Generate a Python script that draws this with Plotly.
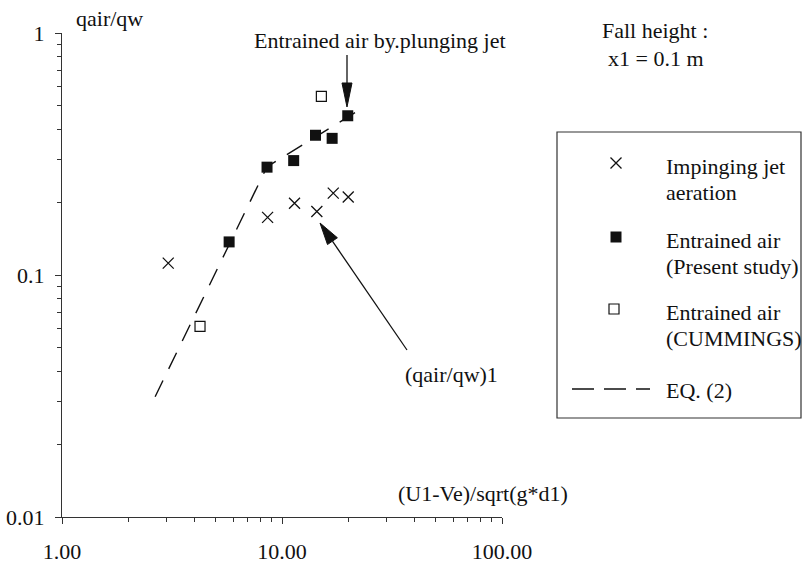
import plotly.graph_objects as go

# ---------------- data ----------------
cross_x = [3.04, 8.6, 11.4, 14.4, 17.1, 20.0]
cross_y = [0.112, 0.173, 0.198, 0.183, 0.218, 0.21]
present_x = [5.75, 8.55, 11.3, 14.2, 16.9, 19.9]
present_y = [0.137, 0.279, 0.297, 0.378, 0.367, 0.455]
cummings_x = [4.24, 15.1]
cummings_y = [0.0613, 0.547]
eq_x = [2.65, 8.55, 23.7]
eq_y = [0.0314, 0.28, 0.495]

x_tickvals = [1, 10, 100]
x_ticktext = ["1.00", "10.00", "100.00"]
y_tickvals = [0.01, 0.1, 1]
y_ticktext = ["0.01", "0.1", "1"]

legend_labels = [["Impinging jet", "aeration"],
                 ["Entrained air", "(Present study)"],
                 ["Entrained air", "(CUMMINGS)"],
                 ["EQ. (2)"]]

# ---------------- layout helpers ----------------
W, H = 804, 567
FONT = "Liberation Serif, Times New Roman, serif"
FS = 22.0
INK = "#111111"


def px(x):
    return x / W


def py(y):
    return 1 - y / H


fig = go.Figure()

fig.add_trace(go.Scatter(x=eq_x, y=eq_y, mode="lines",
                         line=dict(color=INK, width=1.4, dash="18px,13px"),
                         showlegend=False))
fig.add_trace(go.Scatter(x=cross_x, y=cross_y, mode="markers",
                         marker=dict(symbol="x-thin", size=11, color=INK,
                                     line=dict(color=INK, width=1.3)),
                         showlegend=False))
fig.add_trace(go.Scatter(x=present_x, y=present_y, mode="markers",
                         marker=dict(symbol="square", size=11, color=INK,
                                     line=dict(width=0)),
                         showlegend=False))
fig.add_trace(go.Scatter(x=cummings_x, y=cummings_y, mode="markers",
                         marker=dict(symbol="square-open", size=10, color=INK,
                                     line=dict(color=INK, width=1.2)),
                         showlegend=False))

# legend subplot (pixel coordinates)
LX0, LX1, LY0, LY1 = 557, 801, 132, 418
leg_marker_x = [616, 616, 614]
leg_marker_y = [163, 237, 309]
fig.add_trace(go.Scatter(x=[leg_marker_x[0]], y=[leg_marker_y[0]], mode="markers",
                         marker=dict(symbol="x-thin", size=11, color=INK,
                                     line=dict(color=INK, width=1.3)),
                         xaxis="x2", yaxis="y2", showlegend=False, cliponaxis=False))
fig.add_trace(go.Scatter(x=[leg_marker_x[1]], y=[leg_marker_y[1]], mode="markers",
                         marker=dict(symbol="square", size=11, color=INK, line=dict(width=0)),
                         xaxis="x2", yaxis="y2", showlegend=False, cliponaxis=False))
fig.add_trace(go.Scatter(x=[leg_marker_x[2]], y=[leg_marker_y[2]], mode="markers",
                         marker=dict(symbol="square-open", size=10, color=INK,
                                     line=dict(color=INK, width=1.2)),
                         xaxis="x2", yaxis="y2", showlegend=False, cliponaxis=False))
fig.add_trace(go.Scatter(x=[572, 650], y=[389, 389], mode="lines",
                         line=dict(color=INK, width=1.4, dash="22px,10px"),
                         xaxis="x2", yaxis="y2", showlegend=False))

annotations = []


def text(s, x, y, xanchor="center"):
    annotations.append(dict(text=s, x=px(x), y=py(y), xref="paper", yref="paper",
                            xanchor=xanchor, yanchor="middle", showarrow=False,
                            font=dict(family=FONT, size=FS, color=INK)))


text("qair/qw", 110, 18)
text("Entrained air by.plunging jet", 380, 40)
text("Fall height :", 655, 30)
text("x1 = 0.1 m", 656, 58)
text("(qair/qw)1", 451, 374)
text("(U1-Ve)/sqrt(g*d1)", 483, 493)

leg_text_y = [[166, 192], [240, 266], [312, 338], [390]]
for lines, ys in zip(legend_labels, leg_text_y):
    for s, yy in zip(lines, ys):
        text(s, 664, yy, xanchor="left")

shapes = []
# legend frame
shapes.append(dict(type="rect", xref="paper", yref="paper",
                   x0=px(LX0), x1=px(LX1), y0=py(LY1), y1=py(LY0),
                   line=dict(color="#333333", width=1.2)))


def arrow(x0, y0, x1, y1, hl=22, hw=5):
    import math
    dx, dy = x1 - x0, y1 - y0
    L = math.hypot(dx, dy)
    ux, uy = dx / L, dy / L
    bx, by = x1 - ux * hl, y1 - uy * hl
    nx, ny = -uy, ux
    shapes.append(dict(type="line", xref="paper", yref="paper",
                       x0=px(x0), y0=py(y0), x1=px(bx), y1=py(by),
                       line=dict(color=INK, width=1.3)))
    p1 = (bx + nx * hw, by + ny * hw)
    p2 = (bx - nx * hw, by - ny * hw)
    path = "M {:.5f},{:.5f} L {:.5f},{:.5f} L {:.5f},{:.5f} Z".format(
        px(x1), py(y1), px(p1[0]), py(p1[1]), px(p2[0]), py(p2[1]))
    shapes.append(dict(type="path", xref="paper", yref="paper", path=path,
                       fillcolor=INK, line=dict(color=INK, width=1)))


arrow(347, 55, 347, 107, hl=24, hw=5)
arrow(407, 350, 320, 223, hl=22, hw=6)

axis_common = dict(type="log", showgrid=False, zeroline=False, showline=True,
                   linecolor="#333333", linewidth=1.2, ticks="outside", ticklen=6,
                   tickcolor="#333333", tickwidth=1.1, automargin=False,
                   tickfont=dict(family=FONT, size=FS, color=INK))

fig.update_layout(
    width=W, height=H,
    margin=dict(l=0, r=0, t=0, b=0, autoexpand=False),
    paper_bgcolor="white", plot_bgcolor="white",
    showlegend=False,
    xaxis=dict(**axis_common, domain=[px(62), px(502)], range=[0, 2],
               tickvals=x_tickvals, ticktext=x_ticktext, ticklabelstandoff=8,
               anchor="y",
               minor=dict(tickvals=[2, 3, 4, 5, 6, 7, 8, 9, 20, 30, 40, 50, 60, 70, 80, 90],
                          ticks="outside", ticklen=4, tickcolor="#333333", tickwidth=1)),
    yaxis=dict(**axis_common, domain=[py(517), py(33)], range=[-2, 0],
               tickvals=y_tickvals, ticktext=y_ticktext, ticklabelstandoff=6,
               anchor="x",
               minor=dict(tickvals=[0.02, 0.03, 0.04, 0.05, 0.06, 0.07, 0.08, 0.09,
                                    0.2, 0.3, 0.4, 0.5, 0.6, 0.7, 0.8, 0.9],
                          ticks="outside", ticklen=4, tickcolor="#333333", tickwidth=1)),
    xaxis2=dict(domain=[px(LX0), px(LX1)], range=[LX0, LX1], visible=False,
                anchor="y2", fixedrange=True, automargin=False),
    yaxis2=dict(domain=[py(LY1), py(LY0)], range=[LY1, LY0], visible=False,
                anchor="x2", fixedrange=True, automargin=False),
    annotations=annotations,
    shapes=shapes,
)

fig.write_html("out.html")
